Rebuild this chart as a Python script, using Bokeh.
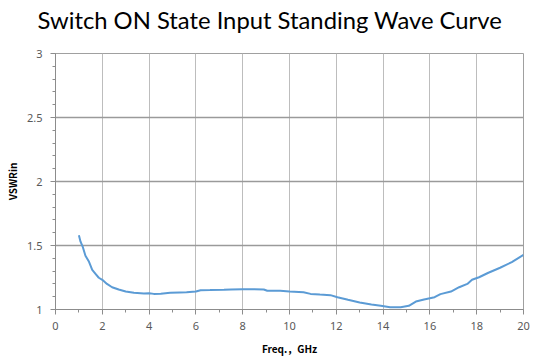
from bokeh.plotting import figure
from bokeh.embed import file_html
from bokeh.resources import INLINE
from bokeh.models import FixedTicker, Range1d, Title

# Data
freq_ghz = [1.0, 1.07, 1.17, 1.28, 1.42, 1.57, 1.71, 1.85, 2.0, 2.2,
            2.42, 2.7, 3.0, 3.35, 3.78, 4.0, 4.2, 4.5, 4.9, 5.3,
            5.6, 6.0, 6.2, 6.6, 7.2, 7.5, 8.0, 8.5, 8.9, 9.05,
            9.6, 10.0, 10.6, 10.9, 11.3, 11.75, 12.05, 12.5, 13.0, 13.5,
            13.9, 14.3, 14.75, 15.1, 15.4, 15.75, 16.2, 16.45, 16.9, 17.25,
            17.6, 17.8, 18.1, 18.5, 19.0, 19.5, 20.0]
vswr_in = [1.58, 1.53, 1.487, 1.42, 1.377, 1.31, 1.279, 1.248, 1.232, 1.20,
           1.174, 1.156, 1.14, 1.13, 1.125, 1.127, 1.122, 1.123, 1.13, 1.133,
           1.135, 1.14, 1.151, 1.152, 1.154, 1.156, 1.159, 1.159, 1.156, 1.146,
           1.146, 1.14, 1.135, 1.122, 1.117, 1.112, 1.096, 1.076, 1.055, 1.039,
           1.029, 1.018, 1.018, 1.029, 1.062, 1.078, 1.096, 1.12, 1.14, 1.174,
           1.20, 1.232, 1.252, 1.287, 1.326, 1.37, 1.427]

x_ticks = [0, 2, 4, 6, 8, 10, 12, 14, 16, 18, 20]
x_minor = list(range(0, 21))
y_ticks = [1, 1.5, 2, 2.5, 3]
y_minor = [1 + 0.1 * i for i in range(21)]

title_text = "Switch ON State Input Standing Wave Curve"
x_label = "Freq.，GHz"
y_label = "VSWRin"

p = figure(frame_width=468, frame_height=256,
           min_border_left=55, min_border_right=10,
           min_border_top=53, min_border_bottom=49,
           x_range=Range1d(0, 20), y_range=Range1d(1, 3),
           output_backend="svg", toolbar_location=None)

# spacer panel between the frame and the title
spacer = Title(text=" ", text_font_size="4px", standoff=13)
p.add_layout(spacer, "above")
main_title = Title(text=title_text, text_font="Lato", text_font_size="23.8px",
                   text_font_style="normal", text_color="black",
                   align="left", offset=-18, standoff=0)
p.add_layout(main_title, "above")

p.line(freq_ghz, vswr_in, line_color="#5b9bd5", line_width=2)

p.xaxis.ticker = FixedTicker(ticks=x_ticks, minor_ticks=x_minor)
p.yaxis.ticker = FixedTicker(ticks=y_ticks, minor_ticks=y_minor)
p.yaxis.major_label_overrides = {1: "1", 1.5: "1.5", 2: "2", 2.5: "2.5", 3: "3"}

for ax in (p.xaxis, p.yaxis):
    ax.axis_line_color = "#8c8c8c"
    ax.major_tick_line_color = "#8c8c8c"
    ax.minor_tick_line_color = "#8c8c8c"
    ax.major_tick_out = 5
    ax.major_tick_in = 0
    ax.minor_tick_out = 3
    ax.minor_tick_in = 0
    ax.major_label_text_font = "Noto Sans"
    ax.major_label_text_font_size = "11px"
    ax.major_label_text_color = "#595959"
    ax.axis_label_text_font = "Noto Sans CJK SC"
    ax.axis_label_text_font_size = "10px"
    ax.axis_label_text_font_style = "bold"
    ax.axis_label_text_color = "black"

p.xaxis.axis_label = x_label
p.yaxis.axis_label = y_label
p.xaxis.major_label_standoff = 7
p.yaxis.major_label_standoff = 8
p.xaxis.axis_label_standoff = 8
p.yaxis.axis_label_standoff = 4

p.xgrid.grid_line_color = "#bdbdbd"
p.ygrid.grid_line_color = "#9a9a9a"
p.ygrid.grid_line_width = 1.3
p.outline_line_color = "#a0a0a0"
p.background_fill_color = "white"
p.border_fill_color = "white"

open("out.html", "w").write(file_html(p, INLINE))
